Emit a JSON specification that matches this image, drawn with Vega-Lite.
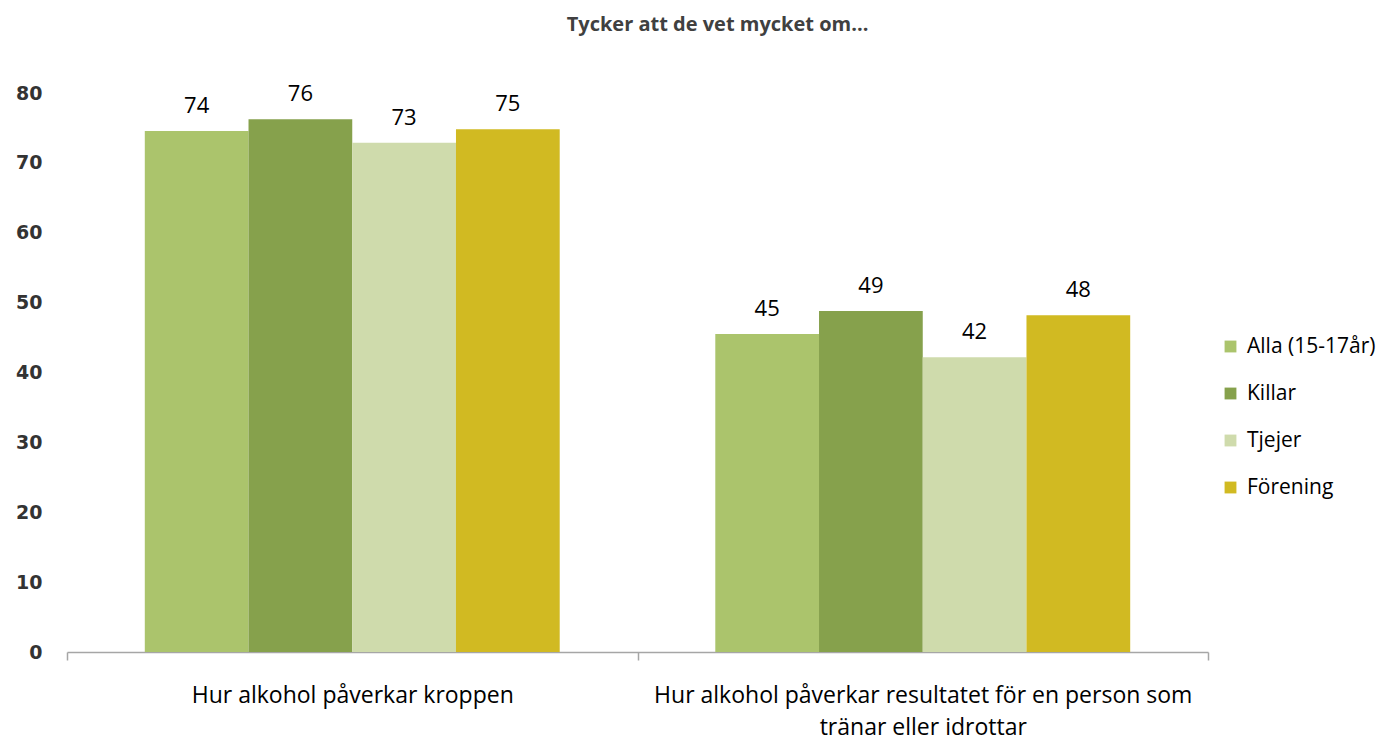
{
  "$schema": "https://vega.github.io/schema/vega-lite/v6.json",
  "autosize": {"type": "none"},
  "width": 1141,
  "height": 559,
  "padding": {"left": 67, "top": 93, "right": 174, "bottom": 89},
  "background": "white",
  "view": {"stroke": null},
  "title": {
    "text": "Tycker att de vet mycket om...",
    "font": "Open Sans",
    "fontSize": 20,
    "fontWeight": "bold",
    "color": "#404040",
    "anchor": "middle",
    "dx": 80,
    "offset": 48
  },
  "data": {
    "values": [
      {"kategori": "Hur alkohol påverkar kroppen", "grupp": "Alla (15-17år)", "varde": 74.56, "etikett": "74"},
      {"kategori": "Hur alkohol påverkar kroppen", "grupp": "Killar", "varde": 76.24, "etikett": "76"},
      {"kategori": "Hur alkohol påverkar kroppen", "grupp": "Tjejer", "varde": 72.89, "etikett": "73"},
      {"kategori": "Hur alkohol påverkar kroppen", "grupp": "Förening", "varde": 74.8, "etikett": "75"},
      {"kategori": "Hur alkohol påverkar resultatet för en person som tränar eller idrottar", "grupp": "Alla (15-17år)", "varde": 45.5, "etikett": "45"},
      {"kategori": "Hur alkohol påverkar resultatet för en person som tränar eller idrottar", "grupp": "Killar", "varde": 48.8, "etikett": "49"},
      {"kategori": "Hur alkohol påverkar resultatet för en person som tränar eller idrottar", "grupp": "Tjejer", "varde": 42.2, "etikett": "42"},
      {"kategori": "Hur alkohol påverkar resultatet för en person som tränar eller idrottar", "grupp": "Förening", "varde": 48.2, "etikett": "48"}
    ]
  },
  "encoding": {
    "x": {
      "field": "kategori",
      "type": "nominal",
      "sort": null,
      "scale": {"paddingInner": 0, "paddingOuter": 0},
      "axis": {
        "title": null,
        "labelAngle": 0,
        "labelFont": "Open Sans",
        "labelFontSize": 23,
        "labelColor": "#000000",
        "labelPadding": 24,
        "labelLimit": 0,
        "labelLineHeight": 32,
        "labelExpr": "datum.value == 'Hur alkohol påverkar resultatet för en person som tränar eller idrottar' ? ['Hur alkohol påverkar resultatet för en person som', 'tränar eller idrottar'] : datum.value",
        "domainColor": "#a6a6a6",
        "domainWidth": 1.5,
        "tickColor": "#a6a6a6",
        "tickWidth": 1.5,
        "tickSize": 8,
        "tickBand": "extent",
        "grid": false
      }
    },
    "xOffset": {
      "field": "grupp",
      "type": "nominal",
      "sort": ["Alla (15-17år)", "Killar", "Tjejer", "Förening"],
      "scale": {"paddingInner": 0, "paddingOuter": 0.75}
    }
  },
  "layer": [
    {
      "mark": {"type": "bar"},
      "encoding": {
        "y": {
          "field": "varde",
          "type": "quantitative",
          "scale": {"domain": [0, 80]},
          "axis": {
            "title": null,
            "values": [0, 10, 20, 30, 40, 50, 60, 70, 80],
            "labelFont": "DejaVu Sans",
            "labelFontWeight": "bold",
            "labelFontSize": 19,
            "labelColor": "#333333",
            "labelPadding": 25,
            "domain": false,
            "ticks": false,
            "grid": false
          }
        },
        "color": {
          "field": "grupp",
          "type": "nominal",
          "sort": ["Alla (15-17år)", "Killar", "Tjejer", "Förening"],
          "scale": {
            "domain": ["Alla (15-17år)", "Killar", "Tjejer", "Förening"],
            "range": ["#abc46c", "#86a14c", "#cfdbac", "#d1ba22"]
          },
          "legend": {
            "title": null,
            "orient": "none",
            "legendX": 1153,
            "legendY": 243,
            "symbolType": "square",
            "symbolSize": 140,
            "symbolStrokeWidth": 0,
            "labelFont": "Open Sans",
            "labelFontSize": 21,
            "labelColor": "#000000",
            "rowPadding": 25,
            "labelOffset": 6
          }
        }
      }
    },
    {
      "mark": {"type": "text", "baseline": "bottom", "dy": -13, "font": "Open Sans", "fontSize": 22, "color": "#000000"},
      "encoding": {
        "y": {"field": "varde", "type": "quantitative"},
        "text": {"field": "etikett", "type": "nominal"}
      }
    }
  ]
}
